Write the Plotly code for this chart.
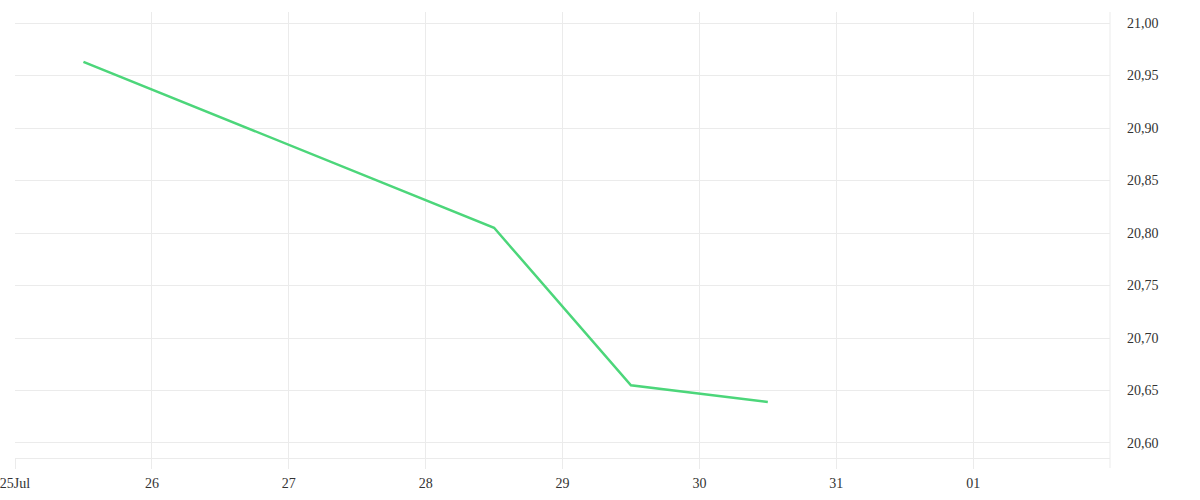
import plotly.graph_objects as go

dates = ["2024-07-25 12:00", "2024-07-28 12:00", "2024-07-29 12:00", "2024-07-30 12:00"]
values = [20.963, 20.805, 20.655, 20.639]

tick_vals = ["2024-07-25", "2024-07-26", "2024-07-27", "2024-07-28", "2024-07-29",
             "2024-07-30", "2024-07-31", "2024-08-01"]
tick_text = ["25Jul", "26", "27", "28", "29", "30", "31", "01"]
y_ticks = [20.60, 20.65, 20.70, 20.75, 20.80, 20.85, 20.90, 20.95, 21.00]
y_text = ["20,60", "20,65", "20,70", "20,75", "20,80", "20,85", "20,90", "20,95", "21,00"]

grid = "#ebebeb"
font = dict(family="Liberation Serif", size=14, color="#333333")

fig = go.Figure()
fig.add_trace(go.Scatter(x=dates, y=values, mode="lines",
                         line=dict(color="#4cd67a", width=2.5), hoverinfo="x+y"))

fig.update_layout(
    width=1200, height=500,
    margin=dict(l=15, r=90, t=12, b=42, autoexpand=False),
    paper_bgcolor="white", plot_bgcolor="white",
    showlegend=False, font=font,
    xaxis=dict(range=["2024-07-25", "2024-08-02"], tickvals=tick_vals, ticktext=tick_text,
               showgrid=True, gridcolor=grid, gridwidth=1,
               ticks="outside", ticklen=10, tickcolor=grid, tickwidth=1,
               showline=True, linecolor=grid, linewidth=1, automargin=False,
               ticklabeloverflow="allow",
               zeroline=False, tickfont=font, ticklabelstandoff=2),
    yaxis=dict(range=[20.5857, 21.0105], side="right", tickvals=y_ticks, ticktext=y_text,
               showgrid=True, gridcolor=grid, gridwidth=1, zeroline=False, automargin=False,
               ticks="", showline=False, tickfont=font, ticklabelstandoff=16),
)
fig.add_shape(type="line", xref="paper", yref="paper", x0=1, x1=1, y0=-10/446, y1=1,
              line=dict(color=grid, width=1))

fig.write_html("out.html", config={"displayModeBar": False},
               post_script="document.body.style.margin='0px';")
